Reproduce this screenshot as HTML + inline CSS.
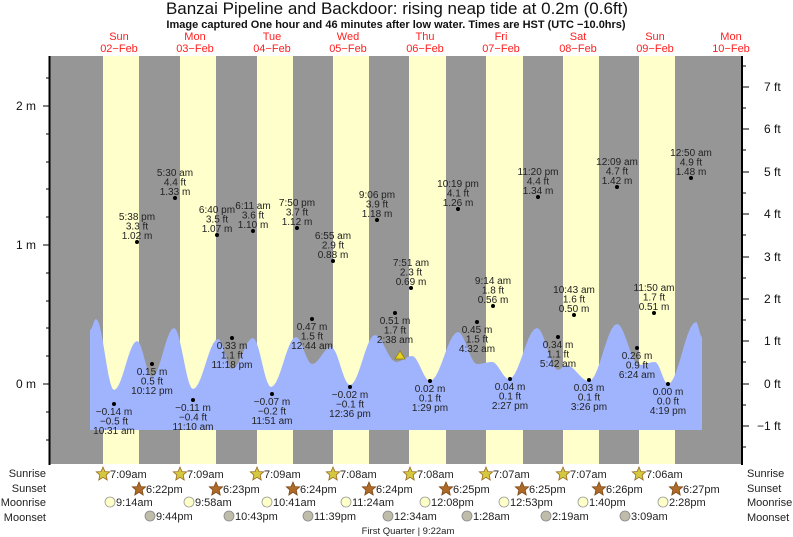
<!DOCTYPE html>
<html><head><meta charset="utf-8"><style>
html,body{margin:0;padding:0;background:#fff}
svg{display:block;font-family:"Liberation Sans",sans-serif}
.l{font-size:10px;fill:#222;text-anchor:middle}
.d{font-size:11px;fill:#ff2020;text-anchor:middle}
.ax{font-size:12px;fill:#111}
.r{font-size:11px;fill:#222}
</style></head><body>
<svg width="793" height="537" viewBox="0 0 793 537">
<defs>
<polygon id="st" points="0,-7 2,-2.4 6.7,-2.2 3.2,1 4.2,6 0,3.3 -4.2,6 -3.2,1 -6.7,-2.2 -2,-2.4"/>
</defs>
<text x="397" y="14" text-anchor="middle" font-size="17" fill="#111">Banzai Pipeline and Backdoor: rising  neap tide at 0.2m (0.6ft)</text>
<text x="396" y="28" text-anchor="middle" font-size="11" font-weight="bold" fill="#111">Image captured One hour and 46 minutes after low water. Times are HST (UTC −10.0hrs)</text>
<g class="d">
<text x="119" y="40">Sun</text><text x="119" y="52">02−Feb</text>
<text x="195" y="40">Mon</text><text x="195" y="52">03−Feb</text>
<text x="272" y="40">Tue</text><text x="272" y="52">04−Feb</text>
<text x="348" y="40">Wed</text><text x="348" y="52">05−Feb</text>
<text x="425" y="40">Thu</text><text x="425" y="52">06−Feb</text>
<text x="501" y="40">Fri</text><text x="501" y="52">07−Feb</text>
<text x="578" y="40">Sat</text><text x="578" y="52">08−Feb</text>
<text x="655" y="40">Sun</text><text x="655" y="52">09−Feb</text>
<text x="731" y="40">Mon</text><text x="731" y="52">10−Feb</text>
</g>
<rect x="50" y="56" width="692" height="408" fill="#969696"/>
<g fill="#ffffcc">
<rect x="103" y="56" width="36" height="408"/>
<rect x="180" y="56" width="36" height="408"/>
<rect x="257" y="56" width="36" height="408"/>
<rect x="333" y="56" width="36" height="408"/>
<rect x="409" y="56" width="37" height="408"/>
<rect x="486" y="56" width="37" height="408"/>
<rect x="563" y="56" width="36" height="408"/>
<rect x="639" y="56" width="36" height="408"/>
</g>
<path id="tide" fill="#a0b4fe" d=""/>
<polygon points="400,351 395,359 405,359" fill="#e8d020" stroke="#8a7a00" stroke-width="0.7"/>
<line x1="49.5" y1="56" x2="49.5" y2="465" stroke="#000" stroke-width="2"/>
<line x1="742" y1="56" x2="742" y2="465" stroke="#000" stroke-width="2"/>
<g stroke="#000" stroke-width="1">
<line x1="43" y1="106" x2="49" y2="106"/><line x1="43" y1="245" x2="49" y2="245"/><line x1="43" y1="384" x2="49" y2="384"/>
<line x1="46" y1="78" x2="49" y2="78"/><line x1="46" y1="134" x2="49" y2="134"/><line x1="46" y1="162" x2="49" y2="162"/><line x1="46" y1="189" x2="49" y2="189"/><line x1="46" y1="217" x2="49" y2="217"/><line x1="46" y1="273" x2="49" y2="273"/><line x1="46" y1="301" x2="49" y2="301"/><line x1="46" y1="328" x2="49" y2="328"/><line x1="46" y1="356" x2="49" y2="356"/><line x1="46" y1="412" x2="49" y2="412"/><line x1="46" y1="440" x2="49" y2="440"/>
<line x1="742" y1="87" x2="749" y2="87"/><line x1="742" y1="129" x2="749" y2="129"/><line x1="742" y1="172" x2="749" y2="172"/><line x1="742" y1="214" x2="749" y2="214"/><line x1="742" y1="257" x2="749" y2="257"/><line x1="742" y1="299" x2="749" y2="299"/><line x1="742" y1="341" x2="749" y2="341"/><line x1="742" y1="384" x2="749" y2="384"/><line x1="742" y1="426" x2="749" y2="426"/>
<line x1="742" y1="66" x2="746" y2="66"/><line x1="742" y1="108" x2="746" y2="108"/><line x1="742" y1="150" x2="746" y2="150"/><line x1="742" y1="193" x2="746" y2="193"/><line x1="742" y1="235" x2="746" y2="235"/><line x1="742" y1="278" x2="746" y2="278"/><line x1="742" y1="320" x2="746" y2="320"/><line x1="742" y1="362" x2="746" y2="362"/><line x1="742" y1="405" x2="746" y2="405"/><line x1="742" y1="447" x2="746" y2="447"/>
</g>
<g class="ax" text-anchor="end">
<text x="36" y="110">2 m</text><text x="36" y="249">1 m</text><text x="36" y="388">0 m</text>
</g>
<g class="ax">
<text x="764" y="91">7 ft</text><text x="764" y="133">6 ft</text><text x="764" y="176">5 ft</text><text x="764" y="218">4 ft</text><text x="764" y="261">3 ft</text><text x="764" y="303">2 ft</text><text x="764" y="345">1 ft</text><text x="764" y="388">0 ft</text><text x="757" y="430">−1 ft</text>
</g>
<g fill="#000">
<circle cx="114" cy="404" r="2"/><circle cx="152" cy="364" r="2"/><circle cx="137" cy="242" r="2"/>
<circle cx="175" cy="198" r="2"/><circle cx="193" cy="400" r="2"/><circle cx="217" cy="235" r="2"/><circle cx="232" cy="338" r="2"/>
<circle cx="253" cy="231" r="2"/><circle cx="272" cy="394" r="2"/><circle cx="297" cy="228" r="2"/><circle cx="312" cy="319" r="2"/>
<circle cx="333" cy="261" r="2"/><circle cx="350" cy="387" r="2"/><circle cx="377" cy="220" r="2"/>
<circle cx="395" cy="313" r="2"/><circle cx="411" cy="288" r="2"/><circle cx="430" cy="381" r="2"/><circle cx="458" cy="209" r="2"/>
<circle cx="477" cy="322" r="2"/><circle cx="493" cy="306" r="2"/><circle cx="510" cy="379" r="2"/><circle cx="538" cy="197" r="2"/>
<circle cx="558" cy="337" r="2"/><circle cx="574" cy="315" r="2"/><circle cx="589" cy="380" r="2"/><circle cx="617" cy="187" r="2"/>
<circle cx="637" cy="348" r="2"/><circle cx="654" cy="313" r="2"/><circle cx="668" cy="384" r="2"/><circle cx="691" cy="178" r="2"/>
</g>
<g class="l">
<text x="114" y="415">−0.14 m</text><text x="114" y="424.5">−0.5 ft</text><text x="114" y="434">10:31 am</text>
<text x="152" y="375">0.15 m</text><text x="152" y="384.5">0.5 ft</text><text x="152" y="394">10:12 pm</text>
<text x="137" y="220">5:38 pm</text><text x="137" y="229.5">3.3 ft</text><text x="137" y="239">1.02 m</text>
<text x="175" y="176">5:30 am</text><text x="175" y="185.5">4.4 ft</text><text x="175" y="195">1.33 m</text>
<text x="193" y="411">−0.11 m</text><text x="193" y="420.5">−0.4 ft</text><text x="193" y="430">11:10 am</text>
<text x="217" y="213">6:40 pm</text><text x="217" y="222.5">3.5 ft</text><text x="217" y="232">1.07 m</text>
<text x="232" y="349">0.33 m</text><text x="232" y="358.5">1.1 ft</text><text x="232" y="368">11:18 pm</text>
<text x="253" y="209">6:11 am</text><text x="253" y="218.5">3.6 ft</text><text x="253" y="228">1.10 m</text>
<text x="272" y="405">−0.07 m</text><text x="272" y="414.5">−0.2 ft</text><text x="272" y="424">11:51 am</text>
<text x="297" y="206">7:50 pm</text><text x="297" y="215.5">3.7 ft</text><text x="297" y="225">1.12 m</text>
<text x="312" y="330">0.47 m</text><text x="312" y="339.5">1.5 ft</text><text x="312" y="349">12:44 am</text>
<text x="333" y="239">6:55 am</text><text x="333" y="248.5">2.9 ft</text><text x="333" y="258">0.88 m</text>
<text x="350" y="398">−0.02 m</text><text x="350" y="407.5">−0.1 ft</text><text x="350" y="417">12:36 pm</text>
<text x="377" y="198">9:06 pm</text><text x="377" y="207.5">3.9 ft</text><text x="377" y="217">1.18 m</text>
<text x="395" y="324">0.51 m</text><text x="395" y="333.5">1.7 ft</text><text x="395" y="343">2:38 am</text>
<text x="411" y="266">7:51 am</text><text x="411" y="275.5">2.3 ft</text><text x="411" y="285">0.69 m</text>
<text x="430" y="392">0.02 m</text><text x="430" y="401.5">0.1 ft</text><text x="430" y="411">1:29 pm</text>
<text x="458" y="187">10:19 pm</text><text x="458" y="196.5">4.1 ft</text><text x="458" y="206">1.26 m</text>
<text x="477" y="333">0.45 m</text><text x="477" y="342.5">1.5 ft</text><text x="477" y="352">4:32 am</text>
<text x="493" y="284">9:14 am</text><text x="493" y="293.5">1.8 ft</text><text x="493" y="303">0.56 m</text>
<text x="510" y="390">0.04 m</text><text x="510" y="399.5">0.1 ft</text><text x="510" y="409">2:27 pm</text>
<text x="538" y="175">11:20 pm</text><text x="538" y="184.5">4.4 ft</text><text x="538" y="194">1.34 m</text>
<text x="558" y="348">0.34 m</text><text x="558" y="357.5">1.1 ft</text><text x="558" y="367">5:42 am</text>
<text x="574" y="293">10:43 am</text><text x="574" y="302.5">1.6 ft</text><text x="574" y="312">0.50 m</text>
<text x="589" y="391">0.03 m</text><text x="589" y="400.5">0.1 ft</text><text x="589" y="410">3:26 pm</text>
<text x="617" y="165">12:09 am</text><text x="617" y="174.5">4.7 ft</text><text x="617" y="184">1.42 m</text>
<text x="637" y="359">0.26 m</text><text x="637" y="368.5">0.9 ft</text><text x="637" y="378">6:24 am</text>
<text x="654" y="291">11:50 am</text><text x="654" y="300.5">1.7 ft</text><text x="654" y="310">0.51 m</text>
<text x="668" y="395">0.00 m</text><text x="668" y="404.5">0.0 ft</text><text x="668" y="414">4:19 pm</text>
<text x="691" y="156">12:50 am</text><text x="691" y="165.5">4.9 ft</text><text x="691" y="175">1.48 m</text>
</g>
<g class="r" text-anchor="end">
<text x="46" y="477">Sunrise</text><text x="46" y="492">Sunset</text><text x="46" y="506">Moonrise</text><text x="46" y="521">Moonset</text>
</g>
<g class="r">
<text x="747" y="477">Sunrise</text><text x="747" y="492">Sunset</text><text x="747" y="506">Moonrise</text><text x="747" y="521">Moonset</text>
</g>
<g fill="#d4c840" stroke="#9a6a20" stroke-width="0.8">
<use href="#st" x="103" y="474"/><use href="#st" x="180" y="474"/><use href="#st" x="257" y="474"/><use href="#st" x="333" y="474"/><use href="#st" x="410" y="474"/><use href="#st" x="486" y="474"/><use href="#st" x="563" y="474"/><use href="#st" x="639" y="474"/>
</g>
<g fill="#b06a28" stroke="#7a4a18" stroke-width="0.8">
<use href="#st" x="139" y="489"/><use href="#st" x="216" y="489"/><use href="#st" x="293" y="489"/><use href="#st" x="369" y="489"/><use href="#st" x="446" y="489"/><use href="#st" x="522" y="489"/><use href="#st" x="599" y="489"/><use href="#st" x="676" y="489"/>
</g>
<g class="r" font-size="10.5">
<text x="110" y="478">7:09am</text><text x="187" y="478">7:09am</text><text x="264" y="478">7:09am</text><text x="340" y="478">7:08am</text><text x="417" y="478">7:08am</text><text x="493" y="478">7:07am</text><text x="570" y="478">7:07am</text><text x="646" y="478">7:06am</text>
<text x="146" y="493">6:22pm</text><text x="223" y="493">6:23pm</text><text x="300" y="493">6:24pm</text><text x="376" y="493">6:24pm</text><text x="453" y="493">6:25pm</text><text x="529" y="493">6:25pm</text><text x="606" y="493">6:26pm</text><text x="683" y="493">6:27pm</text>
</g>
<g fill="#ffffc8" stroke="#999" stroke-width="0.8">
<circle cx="110" cy="502" r="5"/><circle cx="189" cy="502" r="5"/><circle cx="267" cy="502" r="5"/><circle cx="346" cy="502" r="5"/><circle cx="425" cy="502" r="5"/><circle cx="504" cy="502" r="5"/><circle cx="583" cy="502" r="5"/><circle cx="663" cy="502" r="5"/>
</g>
<g fill="#c0bcaa" stroke="#888" stroke-width="0.8">
<circle cx="150" cy="516" r="5"/><circle cx="229" cy="516" r="5"/><circle cx="308" cy="516" r="5"/><circle cx="388" cy="516" r="5"/><circle cx="467" cy="516" r="5"/><circle cx="546" cy="516" r="5"/><circle cx="625" cy="516" r="5"/>
</g>
<g class="r" font-size="10.5">
<text x="116" y="506">9:14am</text><text x="195" y="506">9:58am</text><text x="273" y="506">10:41am</text><text x="352" y="506">11:24am</text><text x="431" y="506">12:08pm</text><text x="510" y="506">12:53pm</text><text x="589" y="506">1:40pm</text><text x="669" y="506">2:28pm</text>
<text x="156" y="520">9:44pm</text><text x="235" y="520">10:43pm</text><text x="314" y="520">11:39pm</text><text x="394" y="520">12:34am</text><text x="473" y="520">1:28am</text><text x="552" y="520">2:19am</text><text x="631" y="520">3:09am</text>
</g>
<text x="408" y="534" text-anchor="middle" font-size="9.5" fill="#222">First Quarter | 9:22am</text>
</svg>
<script>
var p=[[90,330],[96,319],[114,390],[137,341],[152,377],[174,328],[193,389],[218,339],[232,369],[253,338],[271,387],[296,337],[312,364],[331,347],[350,385],[375,335],[396,362],[412,356],[430,381],[458,332],[477,364],[492,362],[509,379],[537,328],[558,370],[566,365],[589,381],[617,324],[639,365],[655,362],[668,384],[696,322],[702,337]];
var d="M90,430 L90,330";
for(var i=0;i<p.length-1;i++){var a=p[i],b=p[i+1];for(var k=1;k<=10;k++){var s=k/10;var x=a[0]+(b[0]-a[0])*s;var y=a[1]+(b[1]-a[1])*(1-Math.cos(Math.PI*s))/2;d+=" L"+x.toFixed(1)+","+y.toFixed(1);}}
d+=" L702,430 Z";
document.getElementById("tide").setAttribute("d",d);
</script>
</body></html>
